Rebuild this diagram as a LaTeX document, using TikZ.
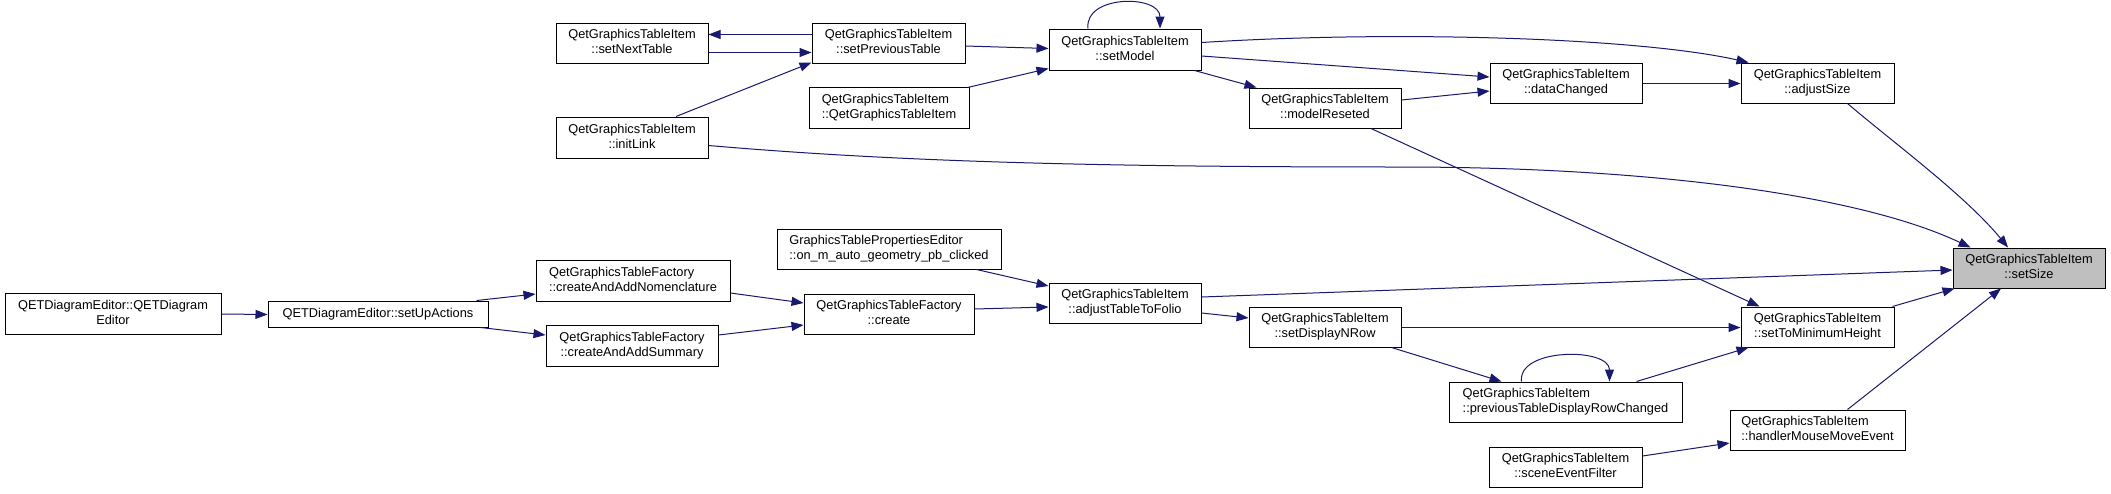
\documentclass[tikz,border=0pt]{standalone}
\usepackage{fontspec}
\setmainfont{Liberation Sans}
\usetikzlibrary{arrows.meta,calc}
\newcommand\twol[2]{\begin{tabular}{@{}c@{}}\multicolumn{1}{@{}l@{}}{#1}\\#2\end{tabular}}
\begin{document}
\begin{tikzpicture}[x=1pt,y=-1pt,
  box/.style={draw=black,line width=1pt,fill=white,inner sep=0pt,font=\fontsize{12.8}{15}\selectfont},
  focus/.style={box,fill=black!25},
  edge/.style={draw=edgecol,line width=1pt,-{Triangle[length=12pt,width=9pt]}}]
\definecolor{edgecol}{HTML}{191970}
\useasboundingbox (0,0) rectangle (2111,493);
\fill[white] (0,0) rectangle (2111,493);
% nodes
\node[box,minimum width=152,minimum height=40] (snt) at (632,43) {\twol{QetGraphicsTableItem}{::setNextTable}};
\node[box,minimum width=153,minimum height=40] (spt) at (888.5,43) {\twol{QetGraphicsTableItem}{::setPreviousTable}};
\node[box,minimum width=152,minimum height=41] (il) at (632,137.5) {\twol{QetGraphicsTableItem}{::initLink}};
\node[box,minimum width=160,minimum height=41] (ctor) at (889,107.5) {\twol{QetGraphicsTableItem}{::QetGraphicsTableItem}};
\node[box,minimum width=152,minimum height=41] (sm) at (1125,49.5) {\twol{QetGraphicsTableItem}{::setModel}};
\node[box,minimum width=152,minimum height=40] (mr) at (1325,108) {\twol{QetGraphicsTableItem}{::modelReseted}};
\node[box,minimum width=152,minimum height=40] (dc) at (1566,83) {\twol{QetGraphicsTableItem}{::dataChanged}};
\node[box,minimum width=153,minimum height=40] (as) at (1817.5,83) {\twol{QetGraphicsTableItem}{::adjustSize}};
\node[focus,minimum width=152,minimum height=40] (ss) at (2029,268) {\twol{QetGraphicsTableItem}{::setSize}};
\node[box,minimum width=216,minimum height=41] (qde) at (113,313.5) {\twol{QETDiagramEditor::QETDiagram}{Editor}};
\node[box,minimum width=220,minimum height=26] (sua) at (378,314) {QETDiagramEditor::setUpActions};
\node[box,minimum width=194,minimum height=41] (cnom) at (633,280.5) {\twol{QetGraphicsTableFactory}{::createAndAddNomenclature}};
\node[box,minimum width=172,minimum height=41] (csum) at (632,345.5) {\twol{QetGraphicsTableFactory}{::createAndAddSummary}};
\node[box,minimum width=224,minimum height=40] (gtpe) at (889,249) {\twol{GraphicsTablePropertiesEditor}{::on\_m\_auto\_geometry\_pb\_clicked}};
\node[box,minimum width=170,minimum height=40] (cr) at (889,314) {\twol{QetGraphicsTableFactory}{::create}};
\node[box,minimum width=152,minimum height=40] (atf) at (1125,303) {\twol{QetGraphicsTableItem}{::adjustTableToFolio}};
\node[box,minimum width=152,minimum height=40] (sdn) at (1325,327) {\twol{QetGraphicsTableItem}{::setDisplayNRow}};
\node[box,minimum width=153,minimum height=40] (stmh) at (1817.5,327) {\twol{QetGraphicsTableItem}{::setToMinimumHeight}};
\node[box,minimum width=233,minimum height=40] (ptdrc) at (1565.5,402) {\twol{QetGraphicsTableItem}{::previousTableDisplayRowChanged}};
\node[box,minimum width=175,minimum height=40] (hmme) at (1817.5,430) {\twol{QetGraphicsTableItem}{::handlerMouseMoveEvent}};
\node[box,minimum width=153,minimum height=40] (sef) at (1565.5,467) {\twol{QetGraphicsTableItem}{::sceneEventFilter}};
% edges
\draw[edge] ($(spt.west)+(0,-8.5)$) .. controls +(-40,0) and +(40,0) .. ($(snt.east)+(0,-8.5)$);
\draw[edge] ($(snt.east)+(0,9.5)$) -- ($(spt.west)+(0,9.5)$);
\draw[edge] ($(il.north)+(44,0)$) -- ($(spt.south west)+(0,-1)$);
\draw[edge] ($(spt.east)+(0,3)$) -- ($(sm.west)+(0,-1)$);
\draw[edge] ($(ctor.north east)+(-2,1)$) -- ($(sm.south west)+(0,-2)$);
\draw[edge] ($(sm.north)+(-37,0)$) .. controls +(-4,-34) and +(0,-34) .. ($(sm.north)+(35,0)$);
\draw[edge] ($(sm.east)+(0,-7)$) .. controls (1400,30) and (1640,38) .. ($(as.north west)+(8,0)$);
\draw[edge] ($(sm.east)+(0,6.5)$) -- ($(dc.west)+(0,-6)$);
\draw[edge] ($(sm.south east)+(-7,0)$) -- ($(mr.north west)+(8,0)$);
\draw[edge] ($(mr.east)+(0,-8)$) -- ($(dc.west)+(0,8)$);
\draw[edge] ($(dc.east)+(0,0.5)$) -- ($(as.west)+(0,0.5)$);
\draw[edge] ($(as.south)+(30,0)$) .. controls (1890,140) and (1965,195) .. ($(ss.north)+(-21,0)$);
\draw[edge] ($(il.east)+(0,8)$) .. controls (900,162) and (1100,167) .. (1400,167) .. controls (1650,167) and (1860,195) .. ($(ss.north west)+(18,0)$);
\draw[edge] ($(mr.south)+(46,0)$) -- ($(stmh.north west)+(19,0)$);
\draw[edge] ($(atf.east)+(0,-6)$) -- ($(ss.west)+(0,2)$);
\draw[edge] ($(stmh.north east)+(-2,0)$) -- ($(ss.south west)+(2,0)$);
\draw[edge] ($(hmme.north)+(30,0)$) -- ($(ss.south)+(-28,0)$);
\draw[edge] ($(sef.east)+(0,-11)$) -- ($(hmme.west)+(0,13)$);
\draw[edge] ($(sdn.east)+(0,0.5)$) -- ($(stmh.west)+(0,0.5)$);
\draw[edge] ($(sdn.south east)+(-10,0)$) -- ($(ptdrc.north west)+(53,0)$);
\draw[edge] ($(ptdrc.north east)+(-46,0)$) -- ($(stmh.south west)+(8,0)$);
\draw[edge] ($(ptdrc.north)+(-44,0)$) .. controls +(-4,-34) and +(0,-34) .. ($(ptdrc.north)+(44,0)$);
\draw[edge] ($(atf.east)+(0,10)$) -- ($(sdn.west)+(0,-9)$);
\draw[edge] ($(gtpe.south east)+(-25,0)$) -- ($(atf.west)+(0,-17)$);
\draw[edge] ($(cr.east)+(0,-5)$) -- ($(atf.west)+(0,4)$);
\draw[edge] ($(cnom.east)+(0,12.5)$) -- ($(cr.west)+(0,-11)$);
\draw[edge] ($(csum.east)+(0,-10.5)$) -- ($(cr.west)+(0,11)$);
\draw[edge] ($(qde.east)+(0,0.5)$) -- ($(sua.west)+(0,0.5)$);
\draw[edge] ($(sua.north east)+(-12,0)$) -- ($(cnom.west)+(0,13.5)$);
\draw[edge] ($(sua.south east)+(-8,0)$) -- ($(csum.west)+(0,-10.5)$);
\end{tikzpicture}
\end{document}
